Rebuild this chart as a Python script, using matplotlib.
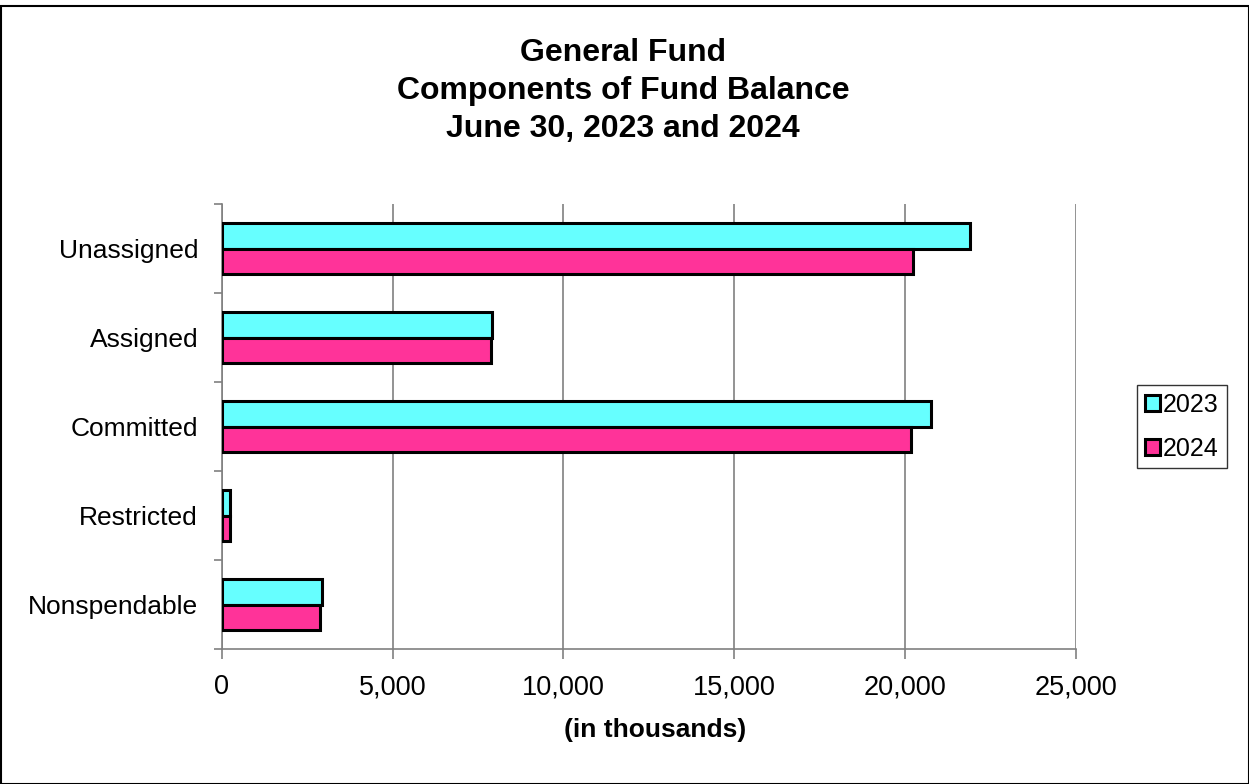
import matplotlib
matplotlib.use("Agg")
import matplotlib.pyplot as plt
from matplotlib.patches import Rectangle
import numpy as np

plt.rcParams['font.family'] = ['Liberation Sans', 'DejaVu Sans']

categories = ["Unassigned", "Assigned", "Committed", "Restricted", "Nonspendable"]
values_2023 = [21910, 7900, 20770, 250, 2930]
values_2024 = [20230, 7890, 20180, 240, 2880]
series_labels = ["2023", "2024"]
colors = ["#66FFFF", "#FF3399"]
xticks = [0, 5000, 10000, 15000, 20000, 25000]

W, H = 1249, 784
fig = plt.figure(figsize=(W / 100, H / 100), dpi=100)
ax = fig.add_axes([221.7 / W, 1 - 649 / H, (1076 - 221.7) / W, (649 - 204) / H])

n = len(categories)
y = np.arange(n)[::-1].astype(float)
bh = 0.285
ax.barh(y + bh / 2, values_2023, height=bh, color=colors[0], edgecolor="black",
        linewidth=2.2, label=series_labels[0], zorder=3)
ax.barh(y - bh / 2, values_2024, height=bh, color=colors[1], edgecolor="black",
        linewidth=2.2, label=series_labels[1], zorder=3)

ax.set_xlim(0, 25000)
ax.set_ylim(-0.5, n - 0.5)
ax.set_xticks(xticks)
ax.set_xticklabels([f"{v:,}" for v in xticks], fontsize=19.5)
ax.set_yticks(y)
ax.set_yticklabels(categories, fontsize=19)
ax.set_yticks(np.arange(n + 1) - 0.5, minor=True)
ax.tick_params(axis="y", which="major", length=0, pad=17)
ax.tick_params(axis="y", which="minor", length=6, color="#808080", width=1.2)
ax.tick_params(axis="x", length=7, color="#808080", width=1.2, pad=11)
ax.xaxis.grid(True, color="#808080", linewidth=1.2, zorder=0)
for s in ["top", "right"]:
    ax.spines[s].set_visible(False)
for s in ["left", "bottom"]:
    ax.spines[s].set_color("#808080")
    ax.spines[s].set_linewidth(1.2)

ax.set_xlabel("(in thousands)", fontsize=19, fontweight="bold")
ax.xaxis.set_label_coords((655.5 - 221.7) / (1076 - 221.7), -(730 - 649) / (649 - 204))
ax.xaxis.label.set_va("center")

fig.text(623 / W, 1 - 91 / H, "General Fund\nComponents of Fund Balance\nJune 30, 2023 and 2024",
         ha="center", va="center", fontsize=23, fontweight="bold", linespacing=1.33)

leg = ax.legend(loc="center left", bbox_to_anchor=(1137 / W, 1 - 427 / H),
                bbox_transform=fig.transFigure, fontsize=18, frameon=True,
                fancybox=False, edgecolor="black", handlelength=0.6, handleheight=0.6,
                handletextpad=0.15, borderpad=0.3, labelspacing=0.8, borderaxespad=0)
leg.get_frame().set_linewidth(1.0)

fig.patches.append(Rectangle((1 / W, 0), 1 - 1.5 / W, 1 - 5.5 / H, transform=fig.transFigure,
                             fill=False, edgecolor="black", linewidth=1.5))

fig.savefig("out.png", dpi=100)
